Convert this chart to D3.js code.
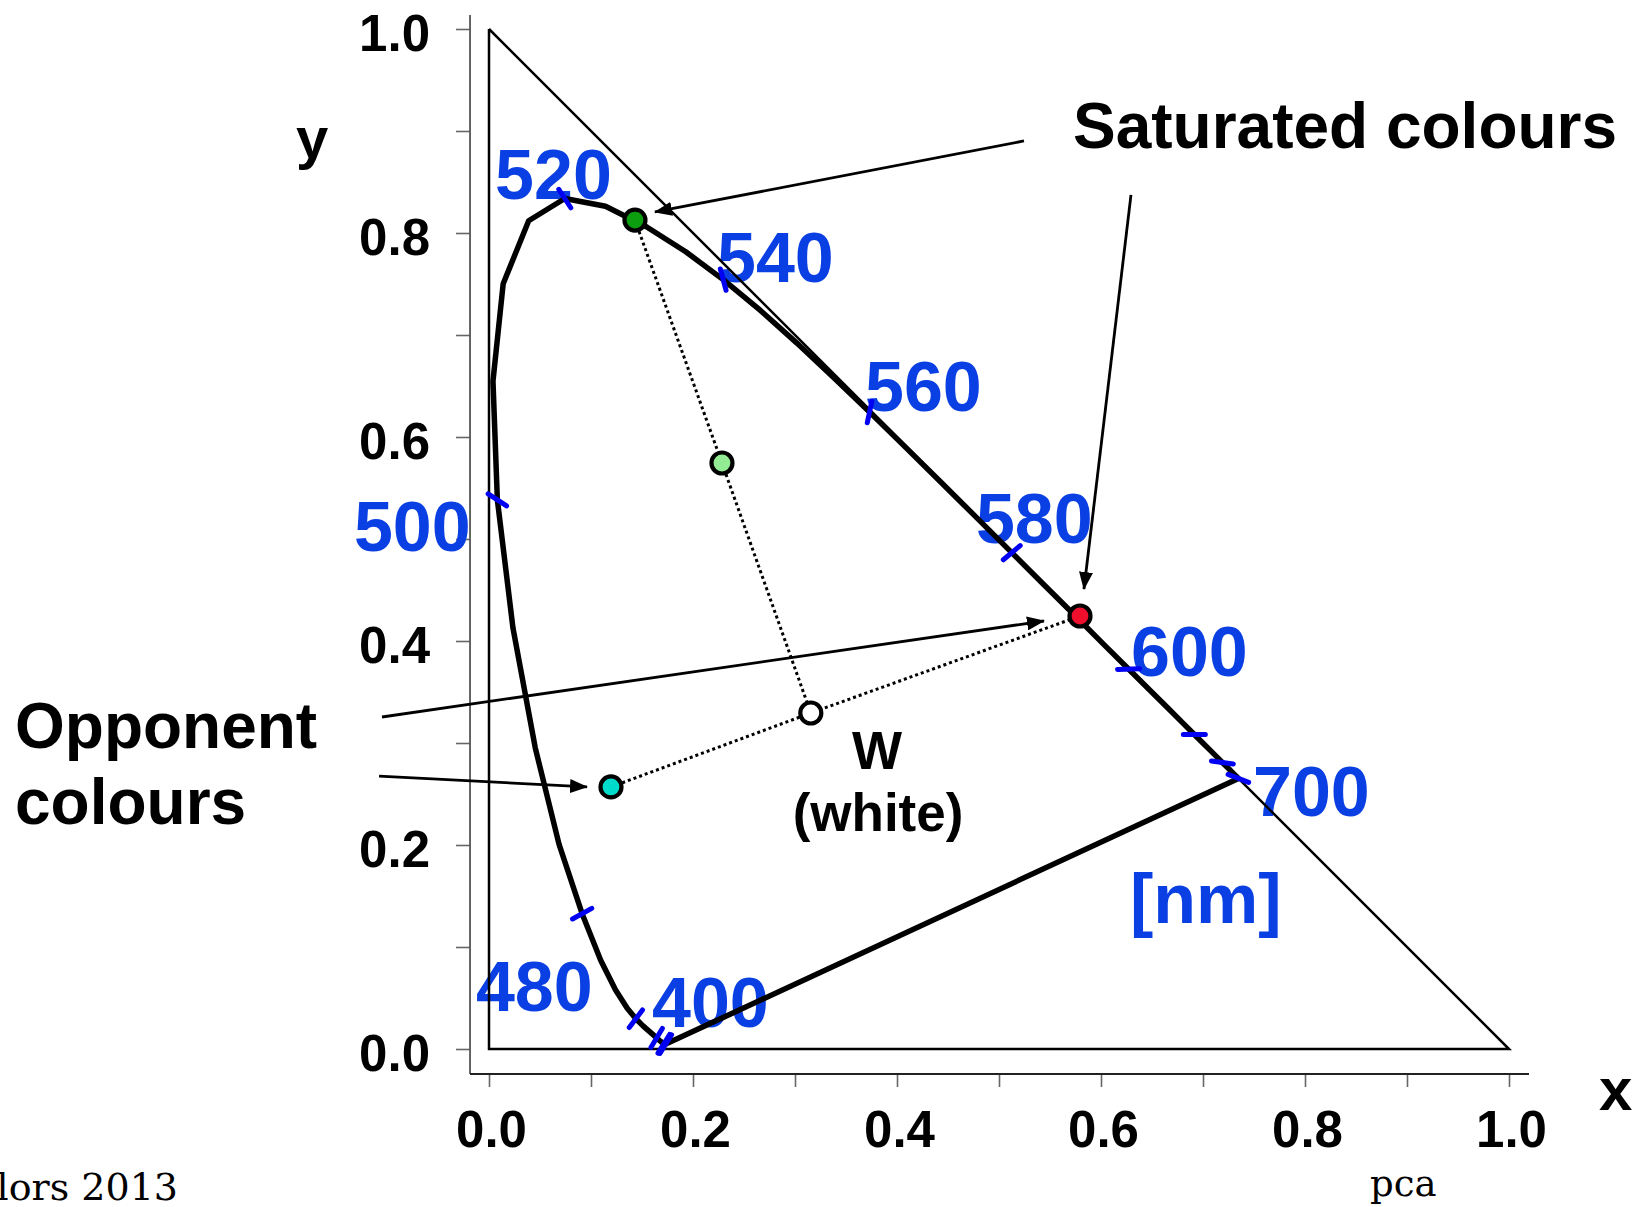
<!DOCTYPE html>
<html><head><meta charset="utf-8">
<script src="https://cdn.jsdelivr.net/npm/d3@7"></script>
<style>body{margin:0;background:#fff;overflow:hidden} svg{display:block}</style>
</head><body>
<script>
// ---- DATA ----
// CIE 1931 spectral locus (chromaticity x, y), 5 nm steps
const wavelengths = [400,405,410,415,420,425,430,435,440,445,450,455,460,465,470,475,480,485,490,495,500,505,510,515,520,525,530,535,540,545,550,555,560,565,570,575,580,585,590,595,600,605,610,615,620,625,630,635,640,645,650,660,670,680,690,700];
const locusX = [0.1733,0.1730,0.1726,0.1721,0.1714,0.1703,0.1689,0.1669,0.1644,0.1611,0.1566,0.1510,0.1440,0.1355,0.1241,0.1096,0.0913,0.0687,0.0454,0.0235,0.0082,0.0039,0.0139,0.0389,0.0743,0.1142,0.1547,0.1929,0.2296,0.2658,0.3016,0.3373,0.3731,0.4087,0.4441,0.4788,0.5125,0.5448,0.5752,0.6029,0.6270,0.6482,0.6658,0.6801,0.6915,0.7006,0.7079,0.7140,0.7190,0.7230,0.7260,0.7300,0.7320,0.7334,0.7344,0.7347];
const locusY = [0.0048,0.0048,0.0048,0.0048,0.0051,0.0058,0.0069,0.0086,0.0109,0.0138,0.0177,0.0227,0.0297,0.0399,0.0578,0.0868,0.1327,0.2007,0.2950,0.4127,0.5384,0.6548,0.7502,0.8120,0.8338,0.8262,0.8059,0.7816,0.7543,0.7243,0.6923,0.6589,0.6245,0.5896,0.5547,0.5202,0.4866,0.4544,0.4242,0.3965,0.3725,0.3514,0.3340,0.3197,0.3083,0.2993,0.2920,0.2859,0.2809,0.2770,0.2740,0.2700,0.2680,0.2666,0.2656,0.2653];

// wavelength tick marks on the locus and their orientation (deg)
const tickWavelengths = [400,420,440,460,480,500,520,540,560,580,600,620,640,700];
const tickAngles      = [-58,-58,-59,-53,-29,33,57,75,-78,-40,-2,0,8,21];

// wavelength labels and their anchor (data units)
const waveLabels = ["520","540","560","580","600","700","500","480","400","[nm]"];
const waveLabelX = [0.0059,0.2235,0.3686,0.4774,0.6294,0.7490,-0.1324,-0.0128,0.1598,0.6284];
const waveLabelY = [0.8333,0.7520,0.6255,0.4961,0.3657,0.2284,0.4882,0.0373,0.0216,0.1235];

// axis ticks
const axisTicks = [0,0.1,0.2,0.3,0.4,0.5,0.6,0.7,0.8,0.9,1.0];
const axisTickLabels = ["0.0","","0.2","","0.4","","0.6","","0.8","","1.0"];

// marked colours (chromaticity)
const pointNames = ["green","lightgreen","white","red","cyan"];
const pointX = [0.1431,0.2284,0.3155,0.5794,0.1196];
const pointY = [0.8127,0.5745,0.3294,0.4245,0.2569];
const pointFill = ["#0d9e10","#93ec93","#ffffff","#ef0f2d","#00dccb"];

// dotted connections (indices into points)
const dottedPaths = [[0,1,2],[4,2,3]];

// gamut triangle
const triX = [0,0,1,0];
const triY = [1,0,0,1];

// annotation arrows [x1,y1,x2,y2] in data units
const arrowsX1 = [0.5245,0.6294,-0.1049,-0.1078];
const arrowsY1 = [0.8902,0.8373,0.3255,0.2676];
const arrowsX2 = [0.1627,0.5833,0.5441,0.0961];
const arrowsY2 = [0.8206,0.4510,0.4196,0.2569];

// black annotation texts
const noteTexts = ["Saturated colours","Opponent","colours","W","(white)"];
const noteX = [0.5725,-0.4647,-0.4647,0.3804,0.3814];
const noteY = [0.8833,0.2951,0.2206,0.2745,0.2137];
const noteAnchor = ["start","start","start","middle","middle"];
const noteSize = [64,64,64,53,53];

// ---- DRAW ----
const W = 1640, H = 1207;
const FONT = "'Liberation Sans', Arial, Helvetica, sans-serif";
const BLUE_TXT = "#0a3fe4", BLUE_TICK = "#0000f2";

const x = d3.scaleLinear().domain([0,1]).range([489,1509]);
const y = d3.scaleLinear().domain([0,1]).range([1049,29]);

const svg = d3.select("body").append("svg").attr("width",W).attr("height",H)
  .style("font-family",FONT);

// arrow marker
svg.append("defs").append("marker")
  .attr("id","ah").attr("markerUnits","userSpaceOnUse")
  .attr("viewBox","0 0 18 14").attr("refX",17).attr("refY",7)
  .attr("markerWidth",18).attr("markerHeight",14).attr("orient","auto")
  .append("path").attr("d","M0,0 L18,7 L0,14 Z").attr("fill","#000");

// axes
const yAxisPos = x(-0.0186), xAxisPos = y(-0.0245);
const yAxis = d3.axisLeft(y).tickValues(axisTicks).tickSize(14).tickPadding(26)
  .tickFormat((d,i)=>axisTickLabels[i]);
const xAxis = d3.axisBottom(x).tickValues(axisTicks).tickSize(13).tickPadding(24)
  .tickFormat((d,i)=>axisTickLabels[i]);

const gy = svg.append("g").attr("transform",`translate(${yAxisPos},0)`).call(yAxis);
const gx = svg.append("g").attr("transform",`translate(0,${xAxisPos})`).call(xAxis);
[gx,gy].forEach(g=>{
  g.select(".domain").remove();
  g.selectAll(".tick line").attr("stroke","#666").attr("stroke-width",1.6);
  g.selectAll(".tick text").attr("fill","#000").attr("font-size",51)
    .attr("font-weight","bold").attr("font-family",FONT);
});
gy.selectAll(".tick text").attr("dy","0.42em");
gx.selectAll(".tick text").attr("dy","0.71em").attr("dx","2");

svg.append("line").attr("x1",yAxisPos).attr("x2",yAxisPos)
  .attr("y1",y(1.0137)).attr("y2",xAxisPos).attr("stroke","#555").attr("stroke-width",1.8);
svg.append("line").attr("x1",yAxisPos).attr("x2",x(1.0196))
  .attr("y1",xAxisPos).attr("y2",xAxisPos).attr("stroke","#222").attr("stroke-width",1.8);

// axis titles
svg.append("text").attr("x",x(-0.1735)).attr("y",y(0.8735)).attr("text-anchor","middle")
  .attr("font-size",58).attr("font-weight","bold").text("y");
svg.append("text").attr("x",x(1.0882)).attr("y",y(-0.0598))
  .attr("font-size",60).attr("font-weight","bold").text("x");

// wavelength labels (beneath lines)
svg.append("g").selectAll("text").data(waveLabels).join("text")
  .attr("x",(d,i)=>x(waveLabelX[i])).attr("y",(d,i)=>y(waveLabelY[i]))
  .attr("font-size",70).attr("font-weight","bold").attr("fill",BLUE_TXT).text(d=>d);

// triangle
const line = d3.line().x(d=>x(d[0])).y(d=>y(d[1]));
svg.append("path").attr("d",line(triX.map((v,i)=>[v,triY[i]])))
  .attr("fill","none").attr("stroke","#000").attr("stroke-width",2.5).attr("stroke-linejoin","miter");

// spectral locus + purple line
const locusPts = wavelengths.map((w,i)=>[locusX[i],locusY[i]]);
svg.append("path").attr("d",line(locusPts.concat([locusPts[0]])))
  .attr("fill","none").attr("stroke","#000").attr("stroke-width",5.5).attr("stroke-linejoin","round");

// dotted lines
dottedPaths.forEach(p=>{
  svg.append("path").attr("d",line(p.map(k=>[pointX[k],pointY[k]])))
    .attr("fill","none").attr("stroke","#000").attr("stroke-width",3)
    .attr("stroke-dasharray","3,3");
});

// arrows
svg.append("g").selectAll("line").data(arrowsX1).join("line")
  .attr("x1",(d,i)=>x(arrowsX1[i])).attr("y1",(d,i)=>y(arrowsY1[i]))
  .attr("x2",(d,i)=>x(arrowsX2[i])).attr("y2",(d,i)=>y(arrowsY2[i]))
  .attr("stroke","#000").attr("stroke-width",2.8).attr("marker-end","url(#ah)");

// wavelength ticks
const half = 11;
svg.append("g").selectAll("line").data(tickWavelengths).join("line")
  .each(function(w,i){
    const k = wavelengths.indexOf(w);
    const cx = x(locusX[k]), cy = y(locusY[k]);
    const a = tickAngles[i]*Math.PI/180;
    d3.select(this).attr("x1",cx-half*Math.cos(a)).attr("y1",cy-half*Math.sin(a))
      .attr("x2",cx+half*Math.cos(a)).attr("y2",cy+half*Math.sin(a));
  })
  .attr("stroke",BLUE_TICK).attr("stroke-width",5).attr("stroke-linecap","round");

// marked points
svg.append("g").selectAll("circle").data(pointNames).join("circle")
  .attr("cx",(d,i)=>x(pointX[i])).attr("cy",(d,i)=>y(pointY[i])).attr("r",10.5)
  .attr("fill",(d,i)=>pointFill[i]).attr("stroke","#000").attr("stroke-width",4.2);

// black notes
svg.append("g").selectAll("text").data(noteTexts).join("text")
  .attr("x",(d,i)=>x(noteX[i])).attr("y",(d,i)=>y(noteY[i]))
  .attr("text-anchor",(d,i)=>noteAnchor[i]).attr("font-size",(d,i)=>noteSize[i])
  .attr("font-weight","bold").attr("fill","#000").text(d=>d);

// footer
svg.append("text").attr("x",178).attr("y",1200).attr("text-anchor","end")
  .attr("font-family","'DejaVu Serif', serif").attr("font-size",38).text("Colors 2013");
svg.append("text").attr("x",1370).attr("y",1196)
  .attr("font-family","'DejaVu Serif', serif").attr("font-size",37).text("pca");
</script>
</body></html>
